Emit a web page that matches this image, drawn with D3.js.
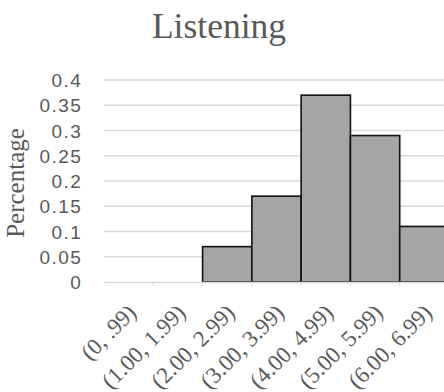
<!DOCTYPE html>
<html>
<head>
<meta charset="utf-8">
<script src="https://cdn.jsdelivr.net/npm/d3@7"></script>
<style>
  html, body { margin: 0; padding: 0; background: #fff; }
  svg { display: block; }
</style>
</head>
<body>
<svg id="chart" width="444" height="392"></svg>
<script>
// Histogram of listening scores
const categories = ["(0, .99)", "(1.00, 1.99)", "(2.00, 2.99)", "(3.00, 3.99)", "(4.00, 4.99)", "(5.00, 5.99)", "(6.00, 6.99)"];
const percentages = [0, 0, 0.07, 0.17, 0.37, 0.29, 0.11];
const yTicks = [0, 0.05, 0.1, 0.15, 0.2, 0.25, 0.3, 0.35, 0.4];
const yTickLabels = ["0", "0.05", "0.1", "0.15", "0.2", "0.25", "0.3", "0.35", "0.4"];

const svg = d3.select("#chart");
const plot = { left: 104, right: 449, top: 80, bottom: 282 };

const x = d3.scaleBand().domain(categories).range([plot.left, plot.right]).padding(0);
const y = d3.scaleLinear().domain([0, 0.4]).range([plot.bottom, plot.top]);

// Title
svg.append("text")
  .attr("x", 219).attr("y", 38)
  .attr("text-anchor", "middle")
  .attr("font-family", "'Liberation Serif', 'Times New Roman', serif")
  .attr("font-size", 35.5)
  .attr("fill", "#595959")
  .text("Listening");

// Horizontal gridlines
svg.append("g")
  .selectAll("line")
  .data(yTicks.slice(1))
  .join("line")
  .attr("x1", plot.left).attr("x2", plot.right)
  .attr("y1", d => y(d)).attr("y2", d => y(d))
  .attr("stroke", "#d9d9d9").attr("stroke-width", 1.3);

// Y axis labels
const yAxis = d3.axisLeft(y).tickValues(yTicks)
  .tickFormat((d, i) => yTickLabels[i]).tickSize(0).tickPadding(0);
const gy = svg.append("g").attr("transform", `translate(${plot.left - 21.8},0)`).call(yAxis);
gy.select(".domain").remove();
gy.selectAll("text")
  .attr("font-family", "'Liberation Sans', Arial, sans-serif")
  .attr("font-size", 19)
  .attr("letter-spacing", 1.4)
  .attr("fill", "#595959")
  .attr("dy", "0.35em");

// Y axis title
svg.append("text")
  .attr("transform", "translate(24,183) rotate(-90)")
  .attr("text-anchor", "middle")
  .attr("font-family", "'Liberation Serif', 'Times New Roman', serif")
  .attr("font-size", 25)
  .attr("fill", "#595959")
  .text("Percentage");

// Bars
svg.append("g")
  .selectAll("rect")
  .data(categories.map((c, i) => ({ c, v: percentages[i] })).filter(d => d.v > 0))
  .join("rect")
  .attr("x", d => x(d.c))
  .attr("y", d => y(d.v))
  .attr("width", x.bandwidth())
  .attr("height", d => y(0) - y(d.v))
  .attr("fill", "#a5a5a5")
  .attr("stroke", "#111")
  .attr("stroke-width", 1.6);

// X axis baseline with tick marks
const xAxis = d3.axisBottom(x).tickSize(0).tickFormat("");
const gx = svg.append("g").attr("transform", `translate(0,${plot.bottom})`).call(xAxis);
gx.select(".domain").attr("stroke", "#d9d9d9").attr("stroke-width", 1.3);
gx.selectAll(".tick").remove();
gx.selectAll("line.bound")
  .data(categories.slice(1))
  .join("line")
  .attr("class", "bound")
  .attr("x1", d => x(d)).attr("x2", d => x(d))
  .attr("y1", 0).attr("y2", 4)
  .attr("stroke", "#d9d9d9");

// Rotated category labels
svg.append("g")
  .selectAll("text")
  .data(categories)
  .join("text")
  .attr("transform", d => `translate(${x(d) + x.bandwidth() / 2 + 9},${plot.bottom + 32}) rotate(-45)`)
  .attr("text-anchor", "end")
  .attr("font-family", "'Liberation Serif', 'Times New Roman', serif")
  .attr("font-size", 23)
  .attr("fill", "#595959")
  .text(d => d);
</script>
</body>
</html>
